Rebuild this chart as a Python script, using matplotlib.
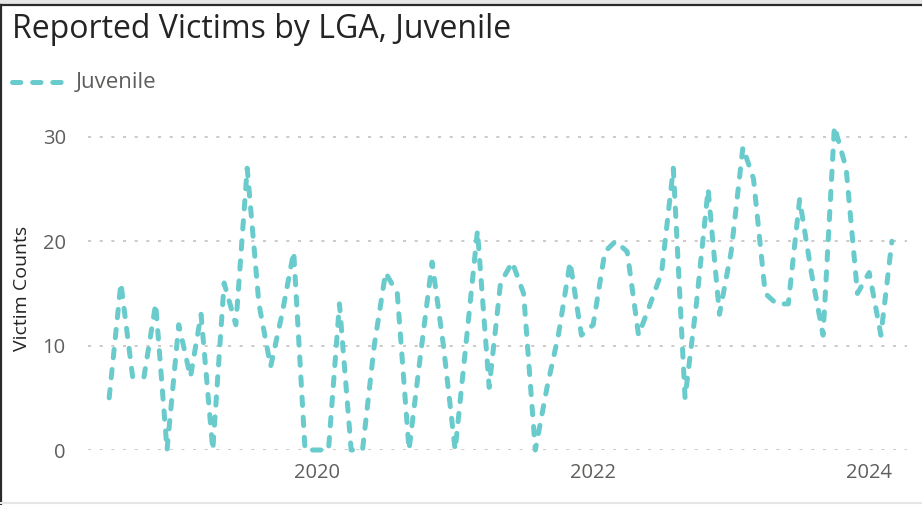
import matplotlib
matplotlib.use("Agg")
import matplotlib.pyplot as plt
import pandas as pd
from matplotlib.lines import Line2D
from matplotlib.patches import Rectangle

plt.rcParams['font.family'] = ['Open Sans', 'DejaVu Sans']
plt.rcParams['lines.scale_dashes'] = False

# monthly reported juvenile victims, Jul 2018 .. Mar 2024
months = pd.date_range("2018-07-01", "2024-03-01", freq="MS")
victims = [5, 16, 7, 7, 14, 0, 12, 7, 13, 0, 16, 12,
           27, 14, 8, 13, 19, 0, 0, 0, 14, 0, 0, 10,
           17, 15, 0, 9, 18, 10, 0, 11, 21, 6, 16, 18,
           15, 0, 6, 11, 18, 11, 12, 19, 20, 19, 11, 14,
           17, 27, 5, 14, 25, 13, 19, 29, 26, 15, 14, 14,
           24, 17, 11, 31, 27, 15, 17, 11, 20]
year_ticks = ["2020-01-01", "2022-01-01", "2024-01-01"]
year_labels = ["2020", "2022", "2024"]
y_ticks = [0, 10, 20, 30]

teal = "#69CBCB"
grey_txt = "#605E5C"
dark_txt = "#252423"
dash = (6, 8.5)

fig = plt.figure(figsize=(9.22, 5.05), dpi=100)
ax = fig.add_axes([88/922, 55/505, (907-88)/922, (450-116)/505])

line, = ax.plot(months, victims, color=teal, lw=3.6, clip_on=False,
                dash_capstyle='round', dash_joinstyle='round', zorder=3)
line.set_dashes(dash)

ax.set_ylim(0, 32)
ax.set_xlim(pd.Timestamp("2018-07-01") - pd.Timedelta(days=56),
            pd.Timestamp("2024-03-01") + pd.Timedelta(days=40))

ax.set_yticks(y_ticks)
ax.set_yticklabels([str(v) for v in y_ticks])
ax.set_xticks(pd.to_datetime(year_ticks))
ax.set_xticklabels(year_labels)
ax.tick_params(axis='both', length=0, labelsize=14.5, labelcolor=grey_txt)
ax.tick_params(axis='x', pad=9)
ax.tick_params(axis='y', pad=16)

ax.grid(axis='y', color="#C8C6C4", lw=1.3, linestyle=(0, (2.2, 6.2)))
ax.grid(axis='x', visible=False)
for s in ax.spines.values():
    s.set_visible(False)

ax.set_ylabel("Victim Counts", fontsize=14, color=dark_txt)
ax.yaxis.set_label_coords(-57/819, 0.4835)

# title and legend
fig.text(12/922, 1 - 38/505, "Reported Victims by LGA, Juvenile",
         fontsize=23, color=dark_txt, ha='left', va='baseline')
leg_line = Line2D([12/922, 70/922], [1 - 82/505, 1 - 82/505], transform=fig.transFigure,
                  color=teal, lw=3.6, dash_capstyle='round')
leg_line.set_dashes(dash)
fig.add_artist(leg_line)
fig.text(76/922, 1 - 82/505, "Juvenile", fontsize=16, color=grey_txt,
         ha='left', va='center')

# screenshot frame
fig.add_artist(Rectangle((0, 1 - 4/505), 1, 4/505, transform=fig.transFigure,
                         color="#E6E6E6", lw=0))
fig.add_artist(Line2D([0, 1], [1 - 5/505, 1 - 5/505], transform=fig.transFigure,
                      color="#2B2B2B", lw=1.6))
fig.add_artist(Line2D([1/922, 1/922], [0, 1 - 5/505], transform=fig.transFigure,
                      color="#2B2B2B", lw=1.6))
fig.add_artist(Line2D([0, 1], [2/505, 2/505], transform=fig.transFigure,
                      color="#E6E6E6", lw=1.5))

fig.savefig("out.png", dpi=100)
